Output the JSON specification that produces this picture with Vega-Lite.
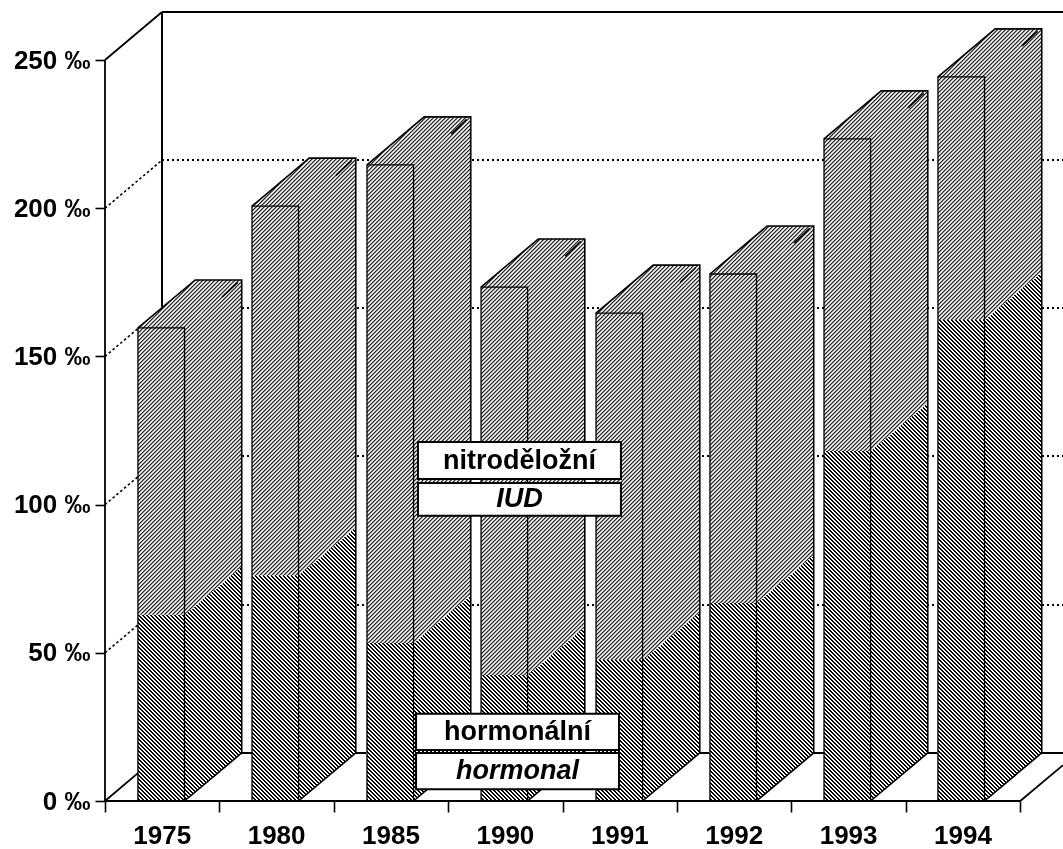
{"$schema":"https://vega.github.io/schema/vega-lite/v6.json","width":958,"height":789,"autosize":{"type":"none"},"padding":{"left":105,"top":12,"right":0,"bottom":48},"background":"white",
"datasets":{
"plot":[{"x":0,"x2":8.374,"y":0,"y2":266.2}],
"front":[
{"year":1975,"part":"h","x":0.288,"x2":0.695,"y":0,"y2":62.8},{"year":1975,"part":"i","x":0.288,"x2":0.695,"y":62.8,"y2":159.6},{"year":1975,"part":"o","x":0.288,"x2":0.695,"y":0,"y2":159.6},
{"year":1980,"part":"h","x":1.285,"x2":1.692,"y":0,"y2":76.2},{"year":1980,"part":"i","x":1.285,"x2":1.692,"y":76.2,"y2":200.7},{"year":1980,"part":"o","x":1.285,"x2":1.692,"y":0,"y2":200.7},
{"year":1985,"part":"h","x":2.29,"x2":2.697,"y":0,"y2":53.3},{"year":1985,"part":"i","x":2.29,"x2":2.697,"y":53.3,"y2":214.6},{"year":1985,"part":"o","x":2.29,"x2":2.697,"y":0,"y2":214.6},
{"year":1990,"part":"h","x":3.287,"x2":3.694,"y":0,"y2":42.5},{"year":1990,"part":"i","x":3.287,"x2":3.694,"y":42.5,"y2":173.4},{"year":1990,"part":"o","x":3.287,"x2":3.694,"y":0,"y2":173.4},
{"year":1991,"part":"h","x":4.292,"x2":4.699,"y":0,"y2":47.6},{"year":1991,"part":"i","x":4.292,"x2":4.699,"y":47.6,"y2":164.6},{"year":1991,"part":"o","x":4.292,"x2":4.699,"y":0,"y2":164.6},
{"year":1992,"part":"h","x":5.288,"x2":5.695,"y":0,"y2":66.8},{"year":1992,"part":"i","x":5.288,"x2":5.695,"y":66.8,"y2":177.8},{"year":1992,"part":"o","x":5.288,"x2":5.695,"y":0,"y2":177.8},
{"year":1993,"part":"h","x":6.285,"x2":6.692,"y":0,"y2":118.1},{"year":1993,"part":"i","x":6.285,"x2":6.692,"y":118.1,"y2":223.4},{"year":1993,"part":"o","x":6.285,"x2":6.692,"y":0,"y2":223.4},
{"year":1994,"part":"h","x":7.281,"x2":7.688,"y":0,"y2":162.3},{"year":1994,"part":"i","x":7.281,"x2":7.688,"y":162.3,"y2":244.3},{"year":1994,"part":"o","x":7.281,"x2":7.688,"y":0,"y2":244.3}],
"faces":[
{"id":"1975h","part":"h","x":0.695,"y":0,"y2":62.8},{"id":"1975h","part":"h","x":1.195,"y":16.2,"y2":79},
{"id":"1975i","part":"i","x":0.695,"y":62.8,"y2":159.6},{"id":"1975i","part":"i","x":1.195,"y":79,"y2":175.8},
{"id":"1975t","part":"t","x":0.288,"y":159.6,"y2":159.6},{"id":"1975t","part":"t","x":0.695,"y":159.6,"y2":172.8},{"id":"1975t","part":"t","x":0.788,"y":162.6,"y2":175.8},{"id":"1975t","part":"t","x":1.195,"y":175.8,"y2":175.8},
{"id":"1980h","part":"h","x":1.692,"y":0,"y2":76.2},{"id":"1980h","part":"h","x":2.192,"y":16.2,"y2":92.4},
{"id":"1980i","part":"i","x":1.692,"y":76.2,"y2":200.7},{"id":"1980i","part":"i","x":2.192,"y":92.4,"y2":216.9},
{"id":"1980t","part":"t","x":1.285,"y":200.7,"y2":200.7},{"id":"1980t","part":"t","x":1.692,"y":200.7,"y2":213.9},{"id":"1980t","part":"t","x":1.785,"y":203.7,"y2":216.9},{"id":"1980t","part":"t","x":2.192,"y":216.9,"y2":216.9},
{"id":"1985h","part":"h","x":2.697,"y":0,"y2":53.3},{"id":"1985h","part":"h","x":3.197,"y":16.2,"y2":69.5},
{"id":"1985i","part":"i","x":2.697,"y":53.3,"y2":214.6},{"id":"1985i","part":"i","x":3.197,"y":69.5,"y2":230.8},
{"id":"1985t","part":"t","x":2.29,"y":214.6,"y2":214.6},{"id":"1985t","part":"t","x":2.697,"y":214.6,"y2":227.8},{"id":"1985t","part":"t","x":2.79,"y":217.6,"y2":230.8},{"id":"1985t","part":"t","x":3.197,"y":230.8,"y2":230.8},
{"id":"1990h","part":"h","x":3.694,"y":0,"y2":42.5},{"id":"1990h","part":"h","x":4.194,"y":16.2,"y2":58.7},
{"id":"1990i","part":"i","x":3.694,"y":42.5,"y2":173.4},{"id":"1990i","part":"i","x":4.194,"y":58.7,"y2":189.6},
{"id":"1990t","part":"t","x":3.287,"y":173.4,"y2":173.4},{"id":"1990t","part":"t","x":3.694,"y":173.4,"y2":186.6},{"id":"1990t","part":"t","x":3.787,"y":176.4,"y2":189.6},{"id":"1990t","part":"t","x":4.194,"y":189.6,"y2":189.6},
{"id":"1991h","part":"h","x":4.699,"y":0,"y2":47.6},{"id":"1991h","part":"h","x":5.199,"y":16.2,"y2":63.8},
{"id":"1991i","part":"i","x":4.699,"y":47.6,"y2":164.6},{"id":"1991i","part":"i","x":5.199,"y":63.8,"y2":180.8},
{"id":"1991t","part":"t","x":4.292,"y":164.6,"y2":164.6},{"id":"1991t","part":"t","x":4.699,"y":164.6,"y2":177.8},{"id":"1991t","part":"t","x":4.792,"y":167.6,"y2":180.8},{"id":"1991t","part":"t","x":5.199,"y":180.8,"y2":180.8},
{"id":"1992h","part":"h","x":5.695,"y":0,"y2":66.8},{"id":"1992h","part":"h","x":6.195,"y":16.2,"y2":83},
{"id":"1992i","part":"i","x":5.695,"y":66.8,"y2":177.8},{"id":"1992i","part":"i","x":6.195,"y":83,"y2":194},
{"id":"1992t","part":"t","x":5.288,"y":177.8,"y2":177.8},{"id":"1992t","part":"t","x":5.695,"y":177.8,"y2":191},{"id":"1992t","part":"t","x":5.788,"y":180.8,"y2":194},{"id":"1992t","part":"t","x":6.195,"y":194,"y2":194},
{"id":"1993h","part":"h","x":6.692,"y":0,"y2":118.1},{"id":"1993h","part":"h","x":7.192,"y":16.2,"y2":134.3},
{"id":"1993i","part":"i","x":6.692,"y":118.1,"y2":223.4},{"id":"1993i","part":"i","x":7.192,"y":134.3,"y2":239.6},
{"id":"1993t","part":"t","x":6.285,"y":223.4,"y2":223.4},{"id":"1993t","part":"t","x":6.692,"y":223.4,"y2":236.6},{"id":"1993t","part":"t","x":6.785,"y":226.4,"y2":239.6},{"id":"1993t","part":"t","x":7.192,"y":239.6,"y2":239.6},
{"id":"1994h","part":"h","x":7.688,"y":0,"y2":162.3},{"id":"1994h","part":"h","x":8.188,"y":16.2,"y2":178.5},
{"id":"1994i","part":"i","x":7.688,"y":162.3,"y2":244.3},{"id":"1994i","part":"i","x":8.188,"y":178.5,"y2":260.5},
{"id":"1994t","part":"t","x":7.281,"y":244.3,"y2":244.3},{"id":"1994t","part":"t","x":7.688,"y":244.3,"y2":257.5},{"id":"1994t","part":"t","x":7.781,"y":247.3,"y2":260.5},{"id":"1994t","part":"t","x":8.188,"y":260.5,"y2":260.5}],
"edges":[
{"id":1975,"o":1,"x":0.695,"y":0},{"id":1975,"o":2,"x":1.195,"y":16.2},{"id":1975,"o":3,"x":1.195,"y":175.8},{"id":1975,"o":4,"x":0.788,"y":175.8},{"id":1975,"o":5,"x":0.288,"y":159.6},
{"id":1980,"o":1,"x":1.692,"y":0},{"id":1980,"o":2,"x":2.192,"y":16.2},{"id":1980,"o":3,"x":2.192,"y":216.9},{"id":1980,"o":4,"x":1.785,"y":216.9},{"id":1980,"o":5,"x":1.285,"y":200.7},
{"id":1985,"o":1,"x":2.697,"y":0},{"id":1985,"o":2,"x":3.197,"y":16.2},{"id":1985,"o":3,"x":3.197,"y":230.8},{"id":1985,"o":4,"x":2.79,"y":230.8},{"id":1985,"o":5,"x":2.29,"y":214.6},
{"id":1990,"o":1,"x":3.694,"y":0},{"id":1990,"o":2,"x":4.194,"y":16.2},{"id":1990,"o":3,"x":4.194,"y":189.6},{"id":1990,"o":4,"x":3.787,"y":189.6},{"id":1990,"o":5,"x":3.287,"y":173.4},
{"id":1991,"o":1,"x":4.699,"y":0},{"id":1991,"o":2,"x":5.199,"y":16.2},{"id":1991,"o":3,"x":5.199,"y":180.8},{"id":1991,"o":4,"x":4.792,"y":180.8},{"id":1991,"o":5,"x":4.292,"y":164.6},
{"id":1992,"o":1,"x":5.695,"y":0},{"id":1992,"o":2,"x":6.195,"y":16.2},{"id":1992,"o":3,"x":6.195,"y":194},{"id":1992,"o":4,"x":5.788,"y":194},{"id":1992,"o":5,"x":5.288,"y":177.8},
{"id":1993,"o":1,"x":6.692,"y":0},{"id":1993,"o":2,"x":7.192,"y":16.2},{"id":1993,"o":3,"x":7.192,"y":239.6},{"id":1993,"o":4,"x":6.785,"y":239.6},{"id":1993,"o":5,"x":6.285,"y":223.4},
{"id":1994,"o":1,"x":7.688,"y":0},{"id":1994,"o":2,"x":8.188,"y":16.2},{"id":1994,"o":3,"x":8.188,"y":260.5},{"id":1994,"o":4,"x":7.781,"y":260.5},{"id":1994,"o":5,"x":7.281,"y":244.3}],
"ridge":[
{"id":1975,"x":1.023,"y":170},{"id":1975,"x":1.16,"y":175},
{"id":1980,"x":2.02,"y":211.1},{"id":1980,"x":2.157,"y":216.1},
{"id":1985,"x":3.025,"y":225},{"id":1985,"x":3.162,"y":230},
{"id":1990,"x":4.022,"y":183.8},{"id":1990,"x":4.159,"y":188.8},
{"id":1991,"x":5.027,"y":175},{"id":1991,"x":5.164,"y":180},
{"id":1992,"x":6.023,"y":188.2},{"id":1992,"x":6.16,"y":193.2},
{"id":1993,"x":7.02,"y":233.8},{"id":1993,"x":7.157,"y":238.8},
{"id":1994,"x":8.016,"y":254.7},{"id":1994,"x":8.153,"y":259.7}],
"back":[
{"id":"v","x":0.49825,"y":16.19},{"id":"v","x":0.49825,"y":266.2},
{"id":"top","x":0.49825,"y":266.2},{"id":"top","x":8.374,"y":266.2},
{"id":"floor","x":0.49825,"y":16.19},{"id":"floor","x":8.374,"y":16.19}],
"grid":[
{"id":"50","x":0.49825,"y":66.12},{"id":"50","x":8.374,"y":66.12},
{"id":"100","x":0.49825,"y":116.396},{"id":"100","x":8.374,"y":116.396},
{"id":"150","x":0.49825,"y":166.33},{"id":"150","x":8.374,"y":166.33},
{"id":"200","x":0.49825,"y":216.265},{"id":"200","x":8.374,"y":216.265}],
"griddiag":[
{"id":"50","x":0,"y":50},{"id":"50","x":0.288,"y":59.4},
{"id":"100","x":0,"y":100},{"id":"100","x":0.288,"y":109.4},
{"id":"150","x":0,"y":150},{"id":"150","x":0.288,"y":159.4},
{"id":"200","x":0,"y":200},{"id":"200","x":0.498,"y":216.2}],
"frame":[
{"id":"base","x":0,"y":0},{"id":"base","x":8,"y":0},
{"id":"left","x":0,"y":0},{"id":"left","x":0,"y":250},
{"id":"topdiag","x":0,"y":250},{"id":"topdiag","x":0.498,"y":266.2},
{"id":"botdiag","x":0,"y":0},{"id":"botdiag","x":0.288,"y":9.4},
{"id":"rightdiag","x":8,"y":0},{"id":"rightdiag","x":8.374,"y":12.1}],
"boxes":[
{"x":2.736,"x2":4.51,"y":108.6,"y2":121.1},{"x":2.736,"x2":4.51,"y":96.2,"y2":107.3},
{"x":2.719,"x2":4.493,"y":17.2,"y2":29.4},{"x":2.719,"x2":4.493,"y":4,"y2":16.2}],
"labels":[
{"x":3.623,"y":114.85,"t":"nitroděložní","s":"normal"},{"x":3.623,"y":101.75,"t":"IUD","s":"italic"},
{"x":3.606,"y":23.3,"t":"hormonální","s":"normal"},{"x":3.606,"y":10.1,"t":"hormonal","s":"italic"}],
"years":[{"x":0.5,"y":0,"t":"1975"},{"x":1.5,"y":0,"t":"1980"},{"x":2.5,"y":0,"t":"1985"},{"x":3.5,"y":0,"t":"1990"},{"x":4.5,"y":0,"t":"1991"},{"x":5.5,"y":0,"t":"1992"},{"x":6.5,"y":0,"t":"1993"},{"x":7.5,"y":0,"t":"1994"}],
"hatchA":[{"x":-1.967,"y":-100.9},{"x":10.2706,"y":371.445}],
"hatchB":[{"x":-1.967,"y":371.445},{"x":10.2706,"y":-100.9}]},
"encoding":{
"x":{"field":"x","type":"quantitative","scale":{"domain":[0,8.374],"nice":false,"zero":false},"axis":{"values":[0,1,2,3,4,5,6,7,8],"labels":false,"domain":false,"grid":false,"title":null,"tickSize":11,"tickWidth":1.6,"tickColor":"#000","zindex":1}},
"y":{"field":"y","type":"quantitative","scale":{"domain":[0,266.2],"nice":false,"zero":false},"axis":{"values":[0,50,100,150,200,250],"labelExpr":"datum.value + ' ‰'","domain":false,"grid":false,"title":null,"tickSize":10,"tickWidth":1.6,"tickColor":"#000","labelColor":"#000","labelFont":"Liberation Sans","labelFontWeight":"bold","labelFontSize":26,"labelPadding":5,"zindex":1}}},
"layer":[
{"data":{"name":"plot"},"mark":{"type":"rect","fill":"#fff"},"encoding":{"x2":{"field":"x2"},"y2":{"field":"y2"}}},
{"data":{"name":"back"},"mark":{"type":"line","stroke":"#000","strokeWidth":2},"encoding":{"detail":{"field":"id"}}},
{"data":{"name":"grid"},"mark":{"type":"line","stroke":"#000","strokeWidth":2,"strokeDash":[2,3]},"encoding":{"detail":{"field":"id"}}},
{"data":{"name":"front"},"transform":[{"filter":"datum.part=='h'"}],"mark":{"type":"rect","fill":"#404040"},"encoding":{"x2":{"field":"x2"},"y2":{"field":"y2"}}},
{"data":{"name":"faces"},"transform":[{"filter":"datum.part=='h'"}],"mark":{"type":"area","fill":"#404040","opacity":1},"encoding":{"y2":{"field":"y2"},"detail":{"field":"id"}}},
{"data":{"name":"hatchA"},"mark":{"type":"line","stroke":"#fff","strokeWidth":1800,"strokeDash":[2.1,0.728427],"blend":"color-dodge"}},
{"data":{"name":"plot"},"mark":{"type":"rect","fill":"#181818","blend":"color-burn"},"encoding":{"x2":{"field":"x2"},"y2":{"field":"y2"}}},
{"data":{"name":"front"},"transform":[{"filter":"datum.part=='i'"}],"mark":{"type":"rect","fill":"#202020"},"encoding":{"x2":{"field":"x2"},"y2":{"field":"y2"}}},
{"data":{"name":"faces"},"transform":[{"filter":"datum.part=='i'||datum.part=='t'"}],"mark":{"type":"area","fill":"#202020","opacity":1},"encoding":{"y2":{"field":"y2"},"detail":{"field":"id"}}},
{"data":{"name":"hatchB"},"mark":{"type":"line","stroke":"#fff","strokeWidth":1800,"strokeDash":[1.6,1.228427],"blend":"color-dodge"}},
{"data":{"name":"front"},"transform":[{"filter":"datum.part=='o'"}],"mark":{"type":"rect","fillOpacity":0,"stroke":"#000","strokeWidth":1.3},"encoding":{"x2":{"field":"x2"},"y2":{"field":"y2"}}},
{"data":{"name":"edges"},"mark":{"type":"line","stroke":"#000","strokeWidth":1.6},"encoding":{"detail":{"field":"id"},"order":{"field":"o"}}},
{"data":{"name":"ridge"},"mark":{"type":"line","stroke":"#000","strokeWidth":1.6},"encoding":{"detail":{"field":"id"}}},
{"data":{"name":"griddiag"},"mark":{"type":"line","stroke":"#000","strokeWidth":1.6,"strokeDash":[2.5,2.5]},"encoding":{"detail":{"field":"id"}}},
{"data":{"name":"frame"},"mark":{"type":"line","stroke":"#000","strokeWidth":1.8},"encoding":{"detail":{"field":"id"}}},
{"data":{"name":"boxes"},"mark":{"type":"rect","fill":"#fff","stroke":"#000","strokeWidth":2},"encoding":{"x2":{"field":"x2"},"y2":{"field":"y2"}}},
{"data":{"name":"labels"},"transform":[{"filter":"datum.s=='normal'"}],"mark":{"type":"text","font":"Liberation Sans","fontWeight":"bold","fontSize":27,"color":"#000","baseline":"middle"},"encoding":{"text":{"field":"t"}}},
{"data":{"name":"labels"},"transform":[{"filter":"datum.s=='italic'"}],"mark":{"type":"text","font":"Liberation Sans","fontWeight":"bold","fontStyle":"italic","fontSize":27,"color":"#000","baseline":"middle"},"encoding":{"text":{"field":"t"}}},
{"data":{"name":"years"},"mark":{"type":"text","font":"Liberation Sans","fontWeight":"bold","fontSize":26,"color":"#000","baseline":"middle","dy":35},"encoding":{"text":{"field":"t"}}}
],"config":{"view":{"stroke":null}}}
